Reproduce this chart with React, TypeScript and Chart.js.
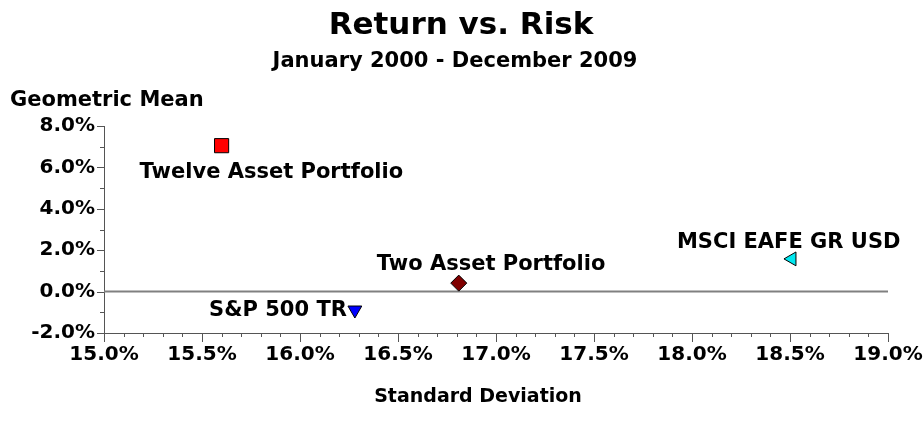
import React, { useEffect, useRef } from "react";
import { Chart, registerables } from "chart.js";

Chart.register(...registerables);

// ---- data ----
const seriesNames = ["Twelve Asset Portfolio", "S&P 500 TR", "Two Asset Portfolio", "MSCI EAFE GR USD"];
const stdDev = [15.6, 16.28, 16.81, 18.51];
const geoMean = [7.05, -0.89, 0.41, 1.58];

const xMin = 15.0;
const xMax = 19.0;
const xStep = 0.5;
const yMin = -2.0;
const yMax = 8.0;
const yStep = 2.0;

const titleText = "Return vs. Risk";
const subtitleText = "January 2000 - December 2009";
const yAxisTitle = "Geometric Mean";
const xAxisTitle = "Standard Deviation";

// ---- styles ----
const FONT = "'DejaVu Sans', Verdana, sans-serif";
const markerColors = ["#ff0000", "#0000ff", "#800000", "#00e8f0"];
const markerStyles = ["rect", "triangle", "rectRot", "triangle"];
const markerRotations = [0, 180, 0, 270];
const markerRadius = [10, 8, 8, 8];
// label anchor offsets (px) relative to the marker, and alignment
const labelOffsets = [
  { dx: -82, dy: 27, align: "left" },
  { dx: -8, dy: 1, align: "right" },
  { dx: -82, dy: -19, align: "left" },
  { dx: -115, dy: -16, align: "left" },
];

const W = 924;
const H = 438;
const AREA_LEFT = 104;
const AREA_RIGHT = 888;
const AREA_TOP = 126;
const AREA_BOTTOM = 333;

const decorPlugin = {
  id: "decor",
  beforeDatasetsDraw(chart: any) {
    const { ctx, scales } = chart;
    const x = scales.x;
    const y = scales.y;
    ctx.save();
    // zero line
    const y0 = y.getPixelForValue(0);
    ctx.strokeStyle = "#808080";
    ctx.lineWidth = 2;
    ctx.beginPath();
    ctx.moveTo(x.left, y0);
    ctx.lineTo(x.right, y0);
    ctx.stroke();
    // tick marks
    ctx.strokeStyle = "#555";
    ctx.lineWidth = 1;
    const nx = Math.round((xMax - xMin) / 0.1);
    for (let i = 0; i <= nx; i++) {
      const px = Math.round(x.getPixelForValue(xMin + i * 0.1)) + 0.5;
      const len = i % 5 === 0 ? 9 : 4;
      ctx.beginPath();
      ctx.moveTo(px, y.bottom);
      ctx.lineTo(px, y.bottom + len);
      ctx.stroke();
    }
    const ny = Math.round(yMax - yMin);
    for (let i = 0; i <= ny; i++) {
      const py = Math.round(y.getPixelForValue(yMin + i)) + 0.5;
      const len = i % 2 === 0 ? 7 : 4;
      ctx.beginPath();
      ctx.moveTo(x.left - len, py);
      ctx.lineTo(x.left, py);
      ctx.stroke();
    }
    ctx.restore();
  },
  afterDatasetsDraw(chart: any) {
    const { ctx, scales } = chart;
    const x = scales.x;
    const y = scales.y;
    ctx.save();
    ctx.fillStyle = "#000";
    // titles
    ctx.textBaseline = "middle";
    ctx.textAlign = "center";
    ctx.font = `bold 31px ${FONT}`;
    ctx.fillText(titleText, 461, 26);
    ctx.font = `bold 21px ${FONT}`;
    ctx.fillText(subtitleText, 455, 62);
    ctx.font = `bold 19px ${FONT}`;
    ctx.fillText(xAxisTitle, 478, 397);
    ctx.textAlign = "left";
    ctx.font = `bold 21px ${FONT}`;
    ctx.fillText(yAxisTitle, 10, 101);
    // point labels
    ctx.font = `bold 21px ${FONT}`;
    for (let i = 0; i < seriesNames.length; i++) {
      const px = x.getPixelForValue(stdDev[i]);
      const py = y.getPixelForValue(geoMean[i]);
      const o = labelOffsets[i];
      ctx.textAlign = o.align as CanvasTextAlign;
      ctx.fillText(seriesNames[i], px + o.dx, py + o.dy);
    }
    ctx.restore();
  },
};

export default function App() {
  const ref = useRef<HTMLCanvasElement | null>(null);

  useEffect(() => {
    if (!ref.current) return;
    const datasets = seriesNames.map((name, i) => ({
      label: name,
      data: [{ x: stdDev[i], y: geoMean[i] }],
      pointStyle: markerStyles[i] as any,
      rotation: markerRotations[i],
      radius: markerRadius[i],
      backgroundColor: markerColors[i],
      borderColor: "#000",
      borderWidth: 1,
    }));
    const tickFont = { family: FONT, size: 20, weight: "bold" as const };
    const chart = new Chart(ref.current, {
      type: "scatter",
      data: { datasets },
      plugins: [decorPlugin],
      options: {
        animation: false,
        responsive: false,
        maintainAspectRatio: false,
        layout: { padding: { top: AREA_TOP, left: 0, right: W - AREA_RIGHT, bottom: 0 } },
        plugins: {
          legend: { display: false },
          title: { display: false },
          tooltip: { enabled: false },
        },
        scales: {
          x: {
            type: "linear",
            min: xMin,
            max: xMax,
            grid: { display: false, drawTicks: false },
            border: { display: true, color: "#555", width: 1 },
            ticks: {
              stepSize: xStep,
              color: "#000",
              font: tickFont,
              padding: 10,
              maxRotation: 0,
              autoSkip: false,
              callback: (v: any) => Number(v).toFixed(1) + "%",
            },
            afterFit: (s: any) => {
              s.height = H - AREA_BOTTOM;
              s.paddingLeft = 0;
              s.paddingRight = 0;
            },
          },
          y: {
            type: "linear",
            min: yMin,
            max: yMax,
            grid: { display: false, drawTicks: false },
            border: { display: true, color: "#555", width: 1 },
            ticks: {
              stepSize: yStep,
              color: "#000",
              font: tickFont,
              padding: 9,
              autoSkip: false,
              callback: (v: any) => Number(v).toFixed(1) + "%",
            },
            afterFit: (s: any) => {
              s.width = AREA_LEFT;
              s.paddingTop = 0;
              s.paddingBottom = 0;
            },
          },
        },
      },
    });
    return () => chart.destroy();
  }, []);

  return (
    <div style={{ position: "fixed", left: 0, top: 0, width: W, height: H, background: "#fff" }}>
      <canvas ref={ref} width={W} height={H} style={{ display: "block", width: W, height: H }} />
    </div>
  );
}
